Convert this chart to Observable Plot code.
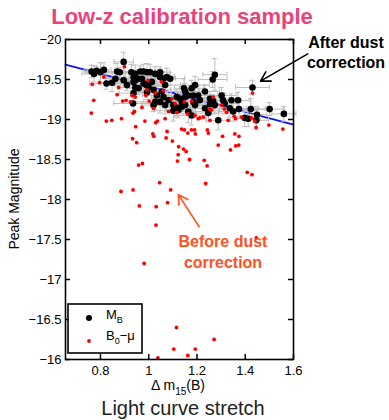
<!DOCTYPE html>
<html><head><meta charset="utf-8">
<script src="https://cdn.jsdelivr.net/npm/d3@7"></script>
<script src="https://cdn.jsdelivr.net/npm/@observablehq/plot@0.6"></script>
<style>body{margin:0;background:#fff;} #chart svg{display:block}</style>
</head><body><div id="chart"></div>
<script>
// ---- data ----
const blackDm15 = [
0.763,0.773,0.784,0.800,0.814,0.825,0.848,0.862,0.869,0.880,
0.896,0.896,0.910,0.928,0.937,0.944,0.937,0.944,0.944,0.958,
0.958,0.935,0.937,0.965,0.979,0.993,0.972,0.979,0.990,0.993,
0.999,1.006,1.013,1.020,1.027,1.034,1.027,1.020,1.047,1.047,
1.061,1.075,1.089,1.068,1.054,1.061,1.047,1.082,1.068,1.102,
1.102,1.116,1.116,1.123,1.130,1.137,1.137,1.146,1.151,1.151,
1.151,1.164,1.164,1.178,1.178,1.185,1.185,1.192,1.192,1.205,
1.212,1.233,1.233,1.247,1.254,1.254,1.265,1.274,1.267,1.274,
1.288,1.302,1.308,1.315,1.336,1.343,1.350,1.370,1.374,1.398,
1.412,1.423,1.430,1.446,1.449,1.501,1.560];
const blackMag = [
-19.60,-19.57,-19.61,-19.59,-19.62,-19.45,-19.46,-19.51,-19.60,-19.59,
-19.72,-19.49,-19.43,-19.59,-19.53,-19.57,-19.47,-19.49,-19.40,-19.51,
-19.39,-19.20,-19.33,-19.60,-19.60,-19.59,-19.51,-19.45,-19.43,-19.34,
-19.41,-19.59,-19.47,-19.37,-19.57,-19.30,-19.22,-19.18,-19.59,-19.53,
-19.51,-19.53,-19.51,-19.43,-19.35,-19.28,-19.22,-19.24,-19.18,-19.18,
-19.11,-19.28,-19.15,-19.12,-19.26,-19.22,-19.16,-19.39,-19.35,-19.28,
-19.18,-19.30,-19.10,-19.39,-19.05,-19.30,-19.22,-19.43,-19.18,-19.30,
-19.24,-19.35,-19.14,-19.08,-19.26,-19.19,-19.50,-19.56,-19.23,-19.18,
-18.99,-19.30,-19.24,-19.20,-19.14,-19.24,-19.10,-19.24,-19.13,-19.02,
-19.01,-19.13,-19.40,-18.99,-19.06,-19.13,-19.07];
const blackDm15Err = [
0.03,0.05,0.04,0.06,0.03,0.07,0.05,0.04,0.08,0.05,
0.04,0.06,0.05,0.03,0.07,0.04,0.09,0.05,0.06,0.04,
0.05,0.08,0.06,0.04,0.05,0.03,0.07,0.06,0.04,0.05,
0.06,0.04,0.05,0.07,0.03,0.06,0.09,0.05,0.04,0.06,
0.05,0.03,0.06,0.08,0.04,0.05,0.07,0.04,0.06,0.05,
0.08,0.04,0.06,0.05,0.03,0.07,0.05,0.04,0.06,0.05,
0.08,0.04,0.06,0.05,0.07,0.03,0.05,0.06,0.04,0.08,
0.05,0.06,0.04,0.07,0.05,0.03,0.06,0.05,0.04,0.07,
0.05,0.06,0.04,0.05,0.07,0.04,0.06,0.05,0.08,0.04,
0.05,0.06,0.07,0.05,0.04,0.06,0.05];
const blackMagErr = [
0.08,0.10,0.06,0.12,0.09,0.07,0.11,0.08,0.10,0.06,
0.12,0.09,0.07,0.10,0.08,0.11,0.13,0.07,0.09,0.10,
0.08,0.12,0.10,0.07,0.09,0.11,0.08,0.10,0.12,0.09,
0.07,0.10,0.08,0.11,0.09,0.13,0.10,0.08,0.07,0.10,
0.09,0.11,0.08,0.10,0.12,0.09,0.14,0.08,0.11,0.10,
0.13,0.09,0.12,0.10,0.08,0.11,0.09,0.12,0.10,0.08,
0.11,0.09,0.14,0.10,0.12,0.08,0.10,0.11,0.09,0.12,
0.10,0.08,0.13,0.11,0.09,0.12,0.10,0.20,0.08,0.11,
0.12,0.10,0.09,0.13,0.11,0.08,0.12,0.10,0.09,0.11,
0.10,0.13,0.09,0.12,0.10,0.08,0.09];
const redDm15 = [
0.766,0.796,0.772,0.762,0.824,0.847,0.887,0.814,0.899,0.875,
0.869,0.892,0.906,0.924,0.931,0.944,0.941,0.972,0.984,1.002,
0.997,0.993,0.988,1.027,1.020,1.029,1.036,1.068,1.054,1.096,
1.109,1.082,1.116,1.148,1.178,1.192,1.205,1.212,1.226,1.267,
1.261,1.254,1.302,1.329,1.136,1.148,1.177,1.190,1.243,0.946,
0.935,1.430,1.498,1.556,1.445,1.426,1.357,1.374,1.354,1.288,
1.339,1.306,1.162,1.251,1.323,1.384,1.061,0.933,0.950,1.017,
1.021,1.072,1.076,1.098,1.124,1.144,1.155,1.122,1.169,1.230,
1.242,1.119,0.958,0.974,1.162,1.193,1.247,1.360,1.373,1.408,
1.428,1.045,0.885,0.935,1.091,1.236,1.078,0.961,1.031,1.030,
0.981,1.446,1.115,1.271,1.104,1.193,1.162,1.038,1.313,1.360,1.439];
const redMag = [
-19.44,-19.46,-19.24,-19.08,-18.98,-18.99,-19.01,-19.53,-19.66,-19.40,
-19.31,-19.23,-19.24,-19.22,-19.30,-19.28,-19.10,-19.15,-18.98,-19.23,
-19.49,-19.37,-19.30,-19.33,-19.14,-18.96,-18.98,-19.01,-19.47,-19.26,
-19.20,-19.10,-19.09,-19.22,-19.23,-19.05,-19.01,-19.02,-19.03,-19.28,
-19.12,-18.99,-19.18,-18.99,-18.88,-18.87,-18.87,-18.87,-18.87,-18.91,
-19.08,-19.33,-18.93,-18.88,-18.90,-19.02,-18.82,-18.79,-19.04,-18.68,
-18.62,-18.79,-19.07,-19.13,-19.09,-19.03,-19.36,-18.76,-18.71,-18.82,
-18.79,-18.77,-18.85,-18.73,-18.66,-18.63,-18.60,-18.56,-18.50,-18.49,
-18.42,-18.48,-18.43,-18.45,-18.83,-18.82,-18.83,-18.67,-18.68,-18.34,
-18.31,-18.21,-18.10,-18.12,-18.12,-18.20,-17.96,-17.92,-17.91,-17.68,
-17.20,-17.52,-16.40,-16.25,-16.13,-16.13,-16.05,-16.02,-19.13,-19.01,-18.98];
const fitDm15 = [0.655, 1.6];
const fitMag = [-19.685, -18.935];
const xTicks = [0.8, 1, 1.2, 1.4, 1.6];
const yTicks = [-20, -19.5, -19, -18.5, -18, -17.5, -17, -16.5, -16];
const afterArrow = {x1: 1.659, y1: -19.82, x2: 1.463, y2: -19.48};
const beforeArrow = {x1: 1.209, y1: -17.66, x2: 1.123, y2: -18.06};

// ---- build ----
const black = blackDm15.map((x, i) => ({x, y: blackMag[i], ex: blackDm15Err[i], ey: blackMagErr[i]}));
const red = redDm15.map((x, i) => ({x, y: redMag[i]}));
const fit = fitDm15.map((x, i) => ({x, y: fitMag[i]}));
const FONT = "'Liberation Sans', Arial, Helvetica, sans-serif";
const gray = "#bdbdbd";
const minus = d => (d < 0 ? "\u2212" : "") + Math.abs(d);

const svgNode = Plot.plot({
  width: 389, height: 420,
  marginLeft: 65, marginRight: 96, marginTop: 39, marginBottom: 61,
  style: {fontFamily: FONT, fontSize: "13px", color: "black", background: "white", overflow: "visible"},
  x: {domain: [0.655, 1.6]},
  y: {domain: [-20, -16], reverse: true},
  marks: [
    Plot.line(fit, {x: "x", y: "y", stroke: "#1010ff", strokeWidth: 1.8}),
    Plot.ruleY(black, {y: "y", x1: d => d.x - d.ex, x2: d => d.x + d.ex, stroke: gray, strokeWidth: 1}),
    Plot.ruleX(black, {x: d => d.x - d.ex, y1: "y", y2: "y", insetTop: -2.5, insetBottom: -2.5, stroke: gray}),
    Plot.ruleX(black, {x: d => d.x + d.ex, y1: "y", y2: "y", insetTop: -2.5, insetBottom: -2.5, stroke: gray}),
    Plot.ruleX(black, {x: "x", y1: d => d.y - d.ey, y2: d => d.y + d.ey, stroke: gray, strokeWidth: 1}),
    Plot.ruleY(black, {y: d => d.y - d.ey, x1: "x", x2: "x", insetLeft: -2.5, insetRight: -2.5, stroke: gray}),
    Plot.ruleY(black, {y: d => d.y + d.ey, x1: "x", x2: "x", insetLeft: -2.5, insetRight: -2.5, stroke: gray}),
    Plot.dot(black, {x: "x", y: "y", r: 3.3, fill: "black"}),
    Plot.dot(red, {x: "x", y: "y", r: 1.9, fill: "#ff0000"}),
    Plot.frame({stroke: "black", strokeWidth: 1.6}),
    Plot.tickX(xTicks, {x: d => d, insetTop: 315, stroke: "black", strokeWidth: 1.5}),
    Plot.tickX(xTicks, {x: d => d, insetBottom: 315, stroke: "black", strokeWidth: 1.5}),
    Plot.tickY(yTicks, {y: d => d, insetRight: 223, stroke: "black", strokeWidth: 1.5}),
    Plot.tickY(yTicks, {y: d => d, insetLeft: 223, stroke: "black", strokeWidth: 1.5}),
    Plot.axisX({anchor: "bottom", ticks: xTicks, tickSize: 0, tickPadding: 6, tickFormat: d => String(d), label: null}),
    Plot.axisY({anchor: "left", ticks: yTicks, tickSize: 0, tickPadding: 4, tickFormat: minus, label: null}),
    Plot.arrow([afterArrow], {x1: "x1", y1: "y1", x2: "x2", y2: "y2", stroke: "black", strokeWidth: 1.6, headLength: 10}),
    Plot.arrow([beforeArrow], {x1: "x1", y1: "y1", x2: "x2", y2: "y2", stroke: "#ff5522", strokeWidth: 1.6, headLength: 10})
  ]
});
document.getElementById("chart").appendChild(svgNode);

// ---- text annotations & legend ----
const svg = d3.select(svgNode);
const g = svg.append("g").attr("font-family", FONT);
function txt(x, y, s, o = {}) {
  return g.append("text").attr("x", x).attr("y", y).text(s)
    .attr("font-size", o.size || 13).attr("font-weight", o.weight || "normal")
    .attr("fill", o.fill || "black").attr("text-anchor", o.anchor || "start");
}
txt(182, 24, "Low-z calibration sample", {size: 22, weight: "bold", fill: "#e8437a", anchor: "middle"});
txt(346, 48, "After dust", {size: 16, weight: "bold", anchor: "middle"});
txt(346, 68, "correction", {size: 16, weight: "bold", anchor: "middle"});
txt(223, 247, "Before dust", {size: 16, weight: "bold", fill: "#ff5122", anchor: "middle"});
txt(223, 268, "correction", {size: 16, weight: "bold", fill: "#ff5122", anchor: "middle"});
txt(0, 0, "Peak Magnitude", {size: 14, anchor: "middle"}).attr("transform", "translate(19,199) rotate(-90)");
const xl = txt(178, 389.5, "\u0394 m", {size: 14, anchor: "middle"});
xl.append("tspan").attr("dy", 5).attr("font-size", 10).text("15");
xl.append("tspan").attr("dy", -5).text("(B)");
txt(183, 415, "Light curve stretch", {size: 20, anchor: "middle", fill: "#222"});

// legend
g.append("rect").attr("x", 68).attr("y", 304).attr("width", 74).attr("height", 49)
  .attr("fill", "white").attr("stroke", "black").attr("stroke-width", 1.6);
g.append("circle").attr("cx", 89).attr("cy", 318).attr("r", 3).attr("fill", "black");
g.append("circle").attr("cx", 89).attr("cy", 341).attr("r", 1.9).attr("fill", "#ff0000");
const l1 = txt(106, 318.5, "M", {size: 13});
l1.append("tspan").attr("dy", 4).attr("font-size", 9).text("B");
const l2 = txt(106, 340, "B", {size: 13});
l2.append("tspan").attr("dy", 4).attr("font-size", 9).text("0");
l2.append("tspan").attr("dy", -4).text("\u2212\u03bc");
</script>
</body></html>
